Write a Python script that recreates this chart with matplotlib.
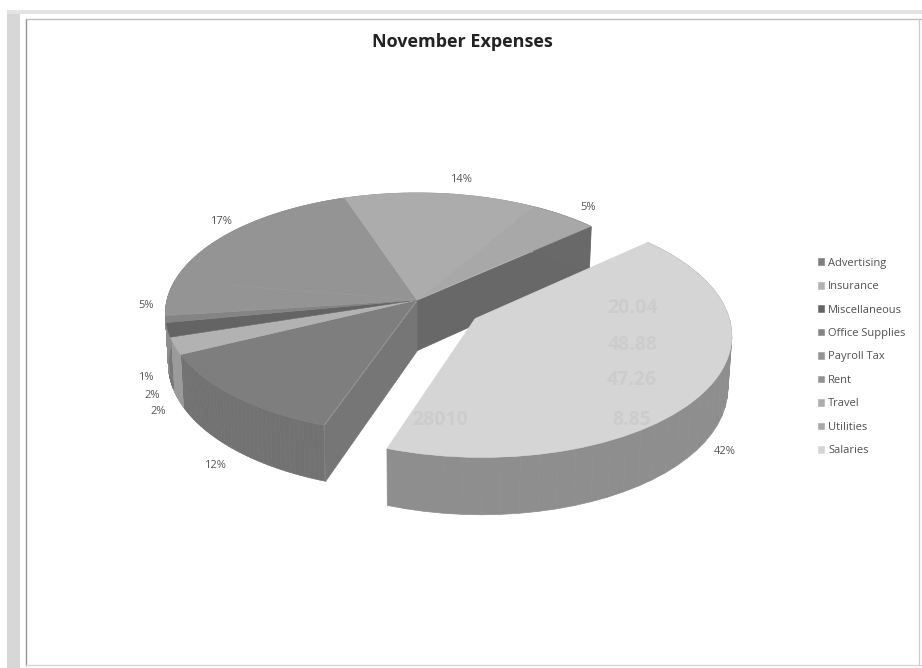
import numpy as np
from matplotlib import pyplot as plt
from matplotlib import transforms as mtransforms
from matplotlib.collections import PolyCollection
from matplotlib.patches import Rectangle

categories = ["Advertising", "Insurance", "Miscellaneous", "Office Supplies",
              "Payroll Tax", "Rent", "Travel", "Utilities", "Salaries"]
# labels show them rounded
shares = [12.4, 2.3, 1.9, 0.9, 4.7, 17.2, 13.8, 4.8, 42.0]

# numbers from the table on the back of the scanned page, they show through
ghost_numbers = ["20.04", "48.88", "47.26", "8.85", "28010"]

top_greys = [126, 178, 100, 132, 148, 148, 172, 168, 213]
wall_greys = [114, 155, 120, 140, 140, 140, 150, 106, 125]
label_spots = [(215, 465), (152, 395), (158, 412), (146, 378), (146, 305),
               (221, 222), (461, 180), (588, 207), (725, 452)]
ghost_spots = [(632, 308), (632, 345), (632, 380), (632, 420), (440, 420)]

FONT = "Open Sans"


def grey(v):
    return (v / 255, v / 255, v / 255)


class PieProjection(mtransforms.Transform):
    """Unit circle of the pie -> pixels, with a bit of perspective. z=1 is the underside."""
    input_dims = 2
    output_dims = 2

    def __init__(self, z=0.0):
        super().__init__()
        self.z = z

    def transform_non_affine(self, values):
        values = np.asarray(values, dtype=float)
        u, v = values[:, 0], values[:, 1]
        w = 1 + 0.111 * v
        x = 417 + 250 * (1 - 0.012 * self.z) * u / w
        y = 300 - 119 * v / w + 50 * self.z / w
        return np.column_stack([x, y])


fig = plt.figure(figsize=(9.22, 6.68), dpi=100)
ax = fig.add_axes([0, 0, 1, 1])

colors = [grey(g) for g in top_greys]
wedges, _ = ax.pie(shares, explode=[0] * 8 + [0.275], startangle=-109.5, counterclock=False,
                   colors=colors, wedgeprops={"linewidth": 0.4})
for w, c in zip(wedges, colors):
    w.set_edgecolor(c)
ax.set_aspect("auto")
ax.set_xlim(0, 922)
ax.set_ylim(668, 0)
ax.axis("off")

top = PieProjection(0.0)
under = PieProjection(1.0)


def draw_quads(u, v, quad_colors, zorder):
    pts = np.column_stack([u, v])
    a = top.transform(pts)
    b = under.transform(pts)
    quads = [[a[i], a[i + 1], b[i + 1], b[i]] for i in range(len(pts) - 1)]
    ax.add_collection(PolyCollection(quads, facecolors=quad_colors, edgecolors=quad_colors,
                                     linewidths=0.5, zorder=zorder))


def draw_walls(w, wall, zorder):
    cx, cy = w.center
    angles = np.linspace(w.theta1, w.theta2, 40)
    if w is wedges[-1]:
        # salaries wall gets darker towards the right
        shade = np.interp(angles[:-1], [-109, -40, 0, 42], [142, 122, 106, 98])
    else:
        shade = np.full(39, wall)
    draw_quads(cx + np.cos(np.radians(angles)), cy + np.sin(np.radians(angles)),
               [grey(s) for s in shade], zorder)


# cut faces of the part that stays in the middle
for w, g in ((wedges[0], 118), (wedges[7], 104)):
    edge = w.theta1 if w is wedges[7] else w.theta2
    t = np.radians(edge)
    draw_quads(np.array([0, np.cos(t)]), np.array([0, np.sin(t)]), [grey(g)], 1)

for w, g in zip(wedges[:-1], wall_greys[:-1]):
    draw_walls(w, g, 2)
draw_walls(wedges[-1], wall_greys[-1], 4)

for i, w in enumerate(wedges):
    w.set_transform(top + ax.transData)
    w.set_clip_on(False)
    w.set_zorder(5 if i == len(wedges) - 1 else 3)

for number, (x, y) in zip(ghost_numbers, ghost_spots):
    ax.text(x, y, number, ha="center", va="center", fontsize=14, family=FONT,
            fontweight="bold", color="black", alpha=0.04, zorder=6)

for share, (x, y) in zip(shares, label_spots):
    ax.text(x, y, f"{share:.0f}%", ha="center", va="center", fontsize=8,
            family=FONT, color=grey(85))

ax.text(462, 42, "November Expenses", ha="center", va="center", fontsize=13,
        family=FONT, fontweight="bold", color=grey(35))

ax.legend(wedges, categories, loc="center left", bbox_to_anchor=(818 / 922, 1 - 357 / 668),
          frameon=False, prop={"family": FONT, "size": 8}, labelcolor=grey(80),
          handlelength=0.55, handleheight=0.55, handletextpad=0.35, labelspacing=1.12,
          borderpad=0, borderaxespad=0)

# scanned page frame
ax.add_patch(Rectangle((7, 12), 13, 656, color=grey(215), lw=0, zorder=0))
ax.add_patch(Rectangle((7, 10), 915, 4, color=grey(228), lw=0, zorder=0))
ax.plot([25.5, 25.5], [19, 665], color=grey(150), lw=1)
ax.plot([25.5, 922], [18.5, 18.5], color=grey(190), lw=1)
ax.plot([25.5, 922], [665, 665], color=grey(215), lw=1)
ax.plot([919, 919], [18.5, 665], color=grey(205), lw=1)

fig.savefig("out.png", dpi=100)
